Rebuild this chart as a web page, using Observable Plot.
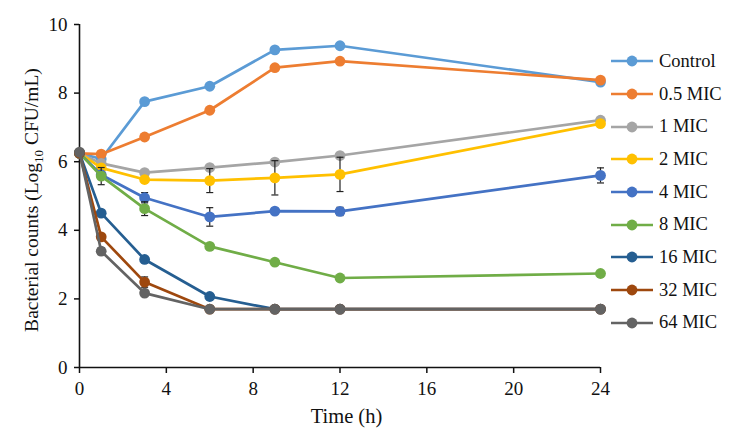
<!DOCTYPE html>
<html><head><meta charset="utf-8">
<script src="https://cdn.jsdelivr.net/npm/d3@7"></script>
<script src="https://cdn.jsdelivr.net/npm/@observablehq/plot@0.6"></script>
<style>
body{margin:0;background:#fff}
#wrap{position:relative;width:744px;height:441px;font-family:"Liberation Serif","Times New Roman",serif}
#legend{position:absolute;left:611px;top:45px}
.item{display:flex;align-items:center;height:32.7px;font-size:18.5px;color:#111}
.item svg{margin-right:6px}
</style>
</head><body><div id="wrap"><div id="legend"></div></div>
<script>
const times = [0, 1, 3, 6, 9, 12, 24];
const seriesNames = ["Control", "0.5 MIC", "1 MIC", "2 MIC", "4 MIC", "8 MIC", "16 MIC", "32 MIC", "64 MIC"];
const seriesColors = ["#5B9BD5", "#ED7D31", "#A5A5A5", "#FFC000", "#4472C4", "#70AD47", "#255E91", "#9E480E", "#636363"];
const control = [6.25, 6.08, 7.75, 8.20, 9.26, 9.38, 8.32];
const mic05   = [6.24, 6.22, 6.72, 7.50, 8.74, 8.93, 8.38];
const mic1    = [6.25, 5.95, 5.68, 5.83, 5.99, 6.18, 7.21];
const mic2    = [6.25, 5.82, 5.48, 5.45, 5.53, 5.63, 7.11];
const mic4    = [6.25, 5.62, 4.95, 4.39, 4.56, 4.55, 5.60];
const mic8    = [6.25, 5.58, 4.63, 3.53, 3.07, 2.61, 2.74];
const mic16   = [6.25, 4.50, 3.15, 2.07, 1.70, 1.70, 1.70];
const mic32   = [6.25, 3.81, 2.49, 1.70, 1.70, 1.70, 1.70];
const mic64   = [6.28, 3.39, 2.17, 1.70, 1.70, 1.70, 1.70];
const err0    = [0, 0, 0, 0, 0, 0, 0];
const errMic2 = [0.05, 0.05, 0.08, 0.35, 0.50, 0.50, 0.05];
const errMic4 = [0.05, 0.05, 0.15, 0.27, 0.05, 0.12, 0.22];
const errMic8 = [0.05, 0.25, 0.20, 0.05, 0.05, 0.05, 0.05];
const errMic32= [0.05, 0.08, 0.15, 0.00, 0.00, 0.00, 0.00];
const errMic64= [0.05, 0.10, 0.05, 0.00, 0.00, 0.00, 0.00];
const xTicks = [0, 4, 8, 12, 16, 20, 24];
const yTicks = [0, 2, 4, 6, 8, 10];

const allValues = [control, mic05, mic1, mic2, mic4, mic8, mic16, mic32, mic64];
const allErrors = [err0, err0, err0, errMic2, errMic4, errMic8, err0, errMic32, errMic64];

const capSymbol = {draw(ctx, size){ const r = Math.sqrt(size/Math.PI); ctx.moveTo(-r,0); ctx.lineTo(r,0); }};

const marks = [];
seriesNames.forEach((name, i) => {
  const rows = times.map((t, j) => ({t, v: allValues[i][j], e: allErrors[i][j]}));
  const eb = rows.filter(d => d.e > 0);
  marks.push(Plot.ruleX(eb, {x: "t", y1: d => d.v - d.e, y2: d => d.v + d.e, stroke: "#222", strokeWidth: 1.2}));
  marks.push(Plot.dot(eb, {x: "t", y: d => d.v - d.e, symbol: capSymbol, r: 3.5, stroke: "#222", strokeWidth: 1.2}));
  marks.push(Plot.dot(eb, {x: "t", y: d => d.v + d.e, symbol: capSymbol, r: 3.5, stroke: "#222", strokeWidth: 1.2}));
  marks.push(Plot.line(rows, {x: "t", y: "v", stroke: seriesColors[i], strokeWidth: 2.7}));
  marks.push(Plot.dot(rows, {x: "t", y: "v", r: 5.4, fill: seriesColors[i], stroke: "none"}));
});

const chart = Plot.plot({
  width: 744, height: 441,
  marginLeft: 79, marginRight: 144, marginTop: 24, marginBottom: 74,
  style: {fontFamily: '"Liberation Serif","Times New Roman",serif', fontSize: "19px", color: "#111", background: "transparent"},
  x: {domain: [0, 24]},
  y: {domain: [0, 10]},
  marks: [
    Plot.axisX({ticks: xTicks, tickSize: 6, tickPadding: 8, label: null, fontSize: 19, strokeWidth: 1.5}),
    Plot.axisY({ticks: yTicks, tickSize: 5, tickPadding: 7, label: null, fontSize: 19, strokeWidth: 1.5}),
    Plot.ruleY([0], {stroke: "#111", strokeWidth: 1.6}),
    Plot.ruleX([0], {stroke: "#111", strokeWidth: 1.6}),
    ...marks
  ]
});
const wrap = document.getElementById("wrap");
wrap.insertBefore(chart, wrap.firstChild);

const svg = d3.select(chart);
svg.append("text").attr("x", 346.5).attr("y", 423).attr("text-anchor", "middle")
  .attr("font-size", 20.5).attr("fill", "#111").text("Time (h)");
const yl = svg.append("text").attr("transform", "translate(38,200) rotate(-90)")
  .attr("text-anchor", "middle").attr("font-size", 19.5).attr("fill", "#111");
yl.append("tspan").text("Bacterial counts (Log");
yl.append("tspan").attr("font-size", 13).attr("dy", 5).text("10");
yl.append("tspan").attr("dy", -5).text(" CFU/mL)");

const legend = d3.select("#legend");
seriesNames.forEach((name, i) => {
  const it = legend.append("div").attr("class", "item");
  const s = it.append("svg").attr("width", 42).attr("height", 14);
  s.append("line").attr("x1", 0).attr("x2", 42).attr("y1", 7).attr("y2", 7).attr("stroke", seriesColors[i]).attr("stroke-width", 2.7);
  s.append("circle").attr("cx", 21).attr("cy", 7).attr("r", 5.4).attr("fill", seriesColors[i]);
  it.append("span").text(name);
});
</script></body></html>
